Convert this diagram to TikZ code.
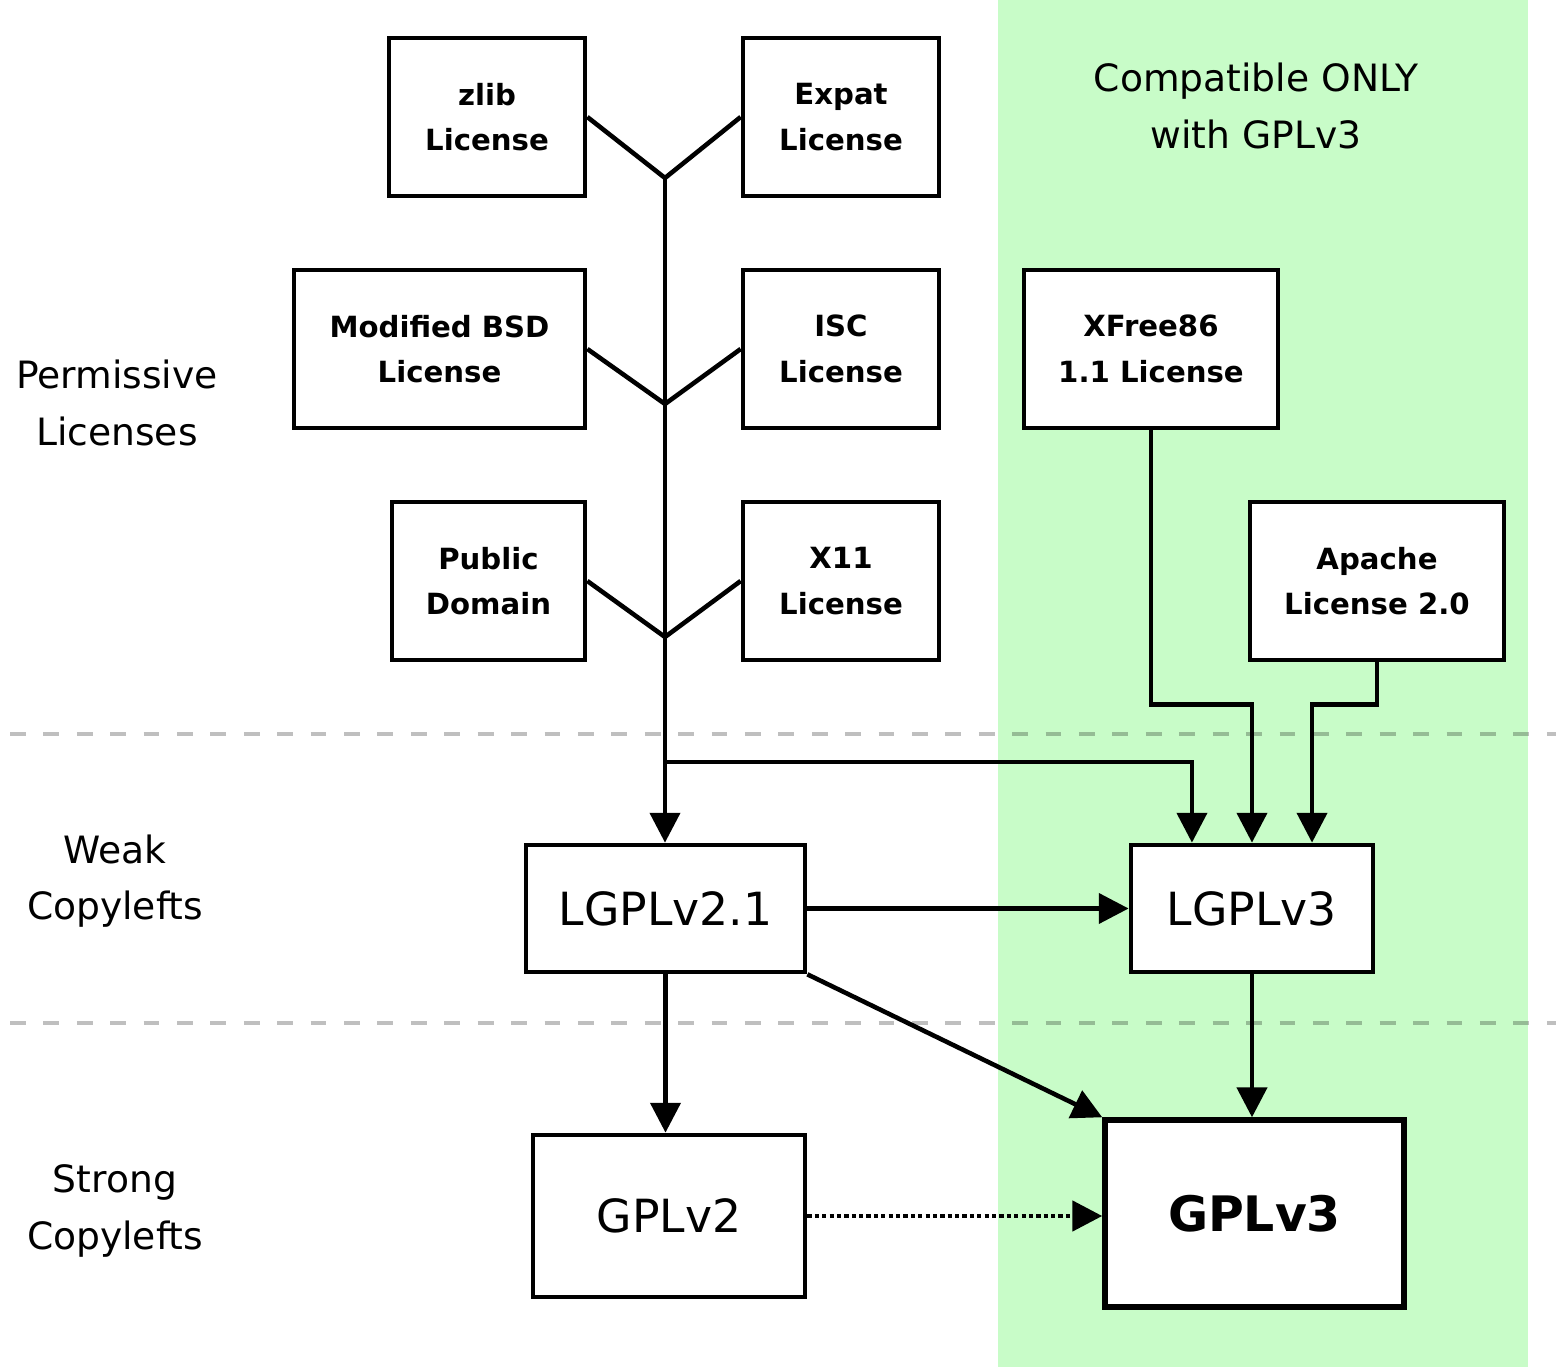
\documentclass[tikz,border=0pt]{standalone}
\usepackage{fontspec}
\setmainfont{DejaVu Sans}
\usetikzlibrary{arrows.meta}
\definecolor{gplgreen}{RGB}{200,252,200}

\begin{document}
\begin{tikzpicture}
	[x=0.01cm,y=-0.01cm,line width=1.3pt,>={Triangle[length=8.5pt,width=8.5pt]},
		lic node/.style={draw,fill=white,align=center,inner sep=0pt,minimum height=1.58cm,font=\fontsize{8.3}{13}\selectfont\bfseries},
		gpl node/.style={draw,fill=white,inner sep=0pt,font=\fontsize{13}{15}\selectfont},
		zone label/.style={align=center,font=\fontsize{10.7}{16}\selectfont},
		divider/.style={black,opacity=0.25,line width=0.9pt,dash pattern=on 4.5pt off 5pt},
		upgrade/.style={->,line width=1.4pt,dash pattern=on 1.2pt off 0.9pt}]

	\useasboundingbox (0,0) rectangle (1556,1367);

	% GPLv3-only zone and the row dividers
	\fill[gplgreen] (998,0) rectangle (1528,1367);
	\draw[divider] (10,734) -- (1556,734);
	\draw[divider] (10,1023) -- (1556,1023);

	\node[zone label] (PL) at (117,403) {Permissive\\Licenses};
	\node[zone label] (WC) at (115,881) {Weak\\Copylefts};
	\node[zone label] (SC) at (115,1211) {Strong\\Copylefts};
	\node[zone label] (CO) at (1256,106) {Compatible ONLY\\with GPLv3};

	\node[lic node,minimum width=1.96cm] (zlib) at (487,117) {zlib\\License};
	\node[lic node,minimum width=1.96cm] (Expat) at (841,117) {Expat\\License};
	\node[lic node,minimum width=2.91cm] (BSD) at (439.5,349) {Modified BSD\\License};
	\node[lic node,minimum width=1.96cm] (ISC) at (841,349) {ISC\\License};
	\node[lic node,minimum width=1.93cm] (PD) at (488.5,581) {Public\\Domain};
	\node[lic node,minimum width=1.96cm] (X11) at (841,581) {X11\\License};
	\node[lic node,minimum width=2.54cm] (XFree) at (1151,349) {XFree86\\1.1 License};
	\node[lic node,minimum width=2.54cm] (Apache) at (1377,581) {Apache\\License 2.0};

	\node[gpl node,minimum width=2.79cm,minimum height=1.27cm] (LGPLa) at (665.5,908.5) {LGPLv2.1};
	\node[gpl node,minimum width=2.42cm,minimum height=1.27cm] (LGPLb) at (1252,908.5) {LGPLv3};
	\node[gpl node,minimum width=2.72cm,minimum height=1.62cm] (GPLa) at (669,1216) {GPLv2};
	\node[gpl node,line width=1.5pt,minimum width=2.99cm,minimum height=1.87cm,font=\fontsize{13.9}{16}\selectfont\bfseries] (GPLb) at (1254.5,1213.5) {GPLv3};

	\coordinate (J1) at (665,178);
	\coordinate (J2) at (665,404);
	\coordinate (J3) at (665,637);
	\coordinate (S) at (665,762);

	\draw (zlib.east) -- (J1) -- (Expat.west);
	\draw (BSD.east) -- (J2) -- (ISC.west);
	\draw (PD.east) -- (J3) -- (X11.west);
	\draw[->] (J1) -- (J1 |- LGPLa.north);
	\draw[->] (S) -| ([xshift=-0.6cm]LGPLb.north);
	\draw[->] (XFree.south) -- ++(0,274) -| (LGPLb.north);
	\draw[->] (Apache.south) -- ++(0,42) -| ([xshift=0.6cm]LGPLb.north);

	\draw[->] (LGPLa) -- (LGPLb);
	\draw[->] (LGPLa.south) -- (LGPLa.south |- GPLa.north);
	\draw[->] (LGPLa.south east) -- (GPLb.north west);
	\draw[->] (LGPLb.south) -- (LGPLb.south |- GPLb.north);
	\draw[upgrade] (GPLa.east) -- (GPLa.east -| GPLb.west);

\end{tikzpicture}
\end{document}
